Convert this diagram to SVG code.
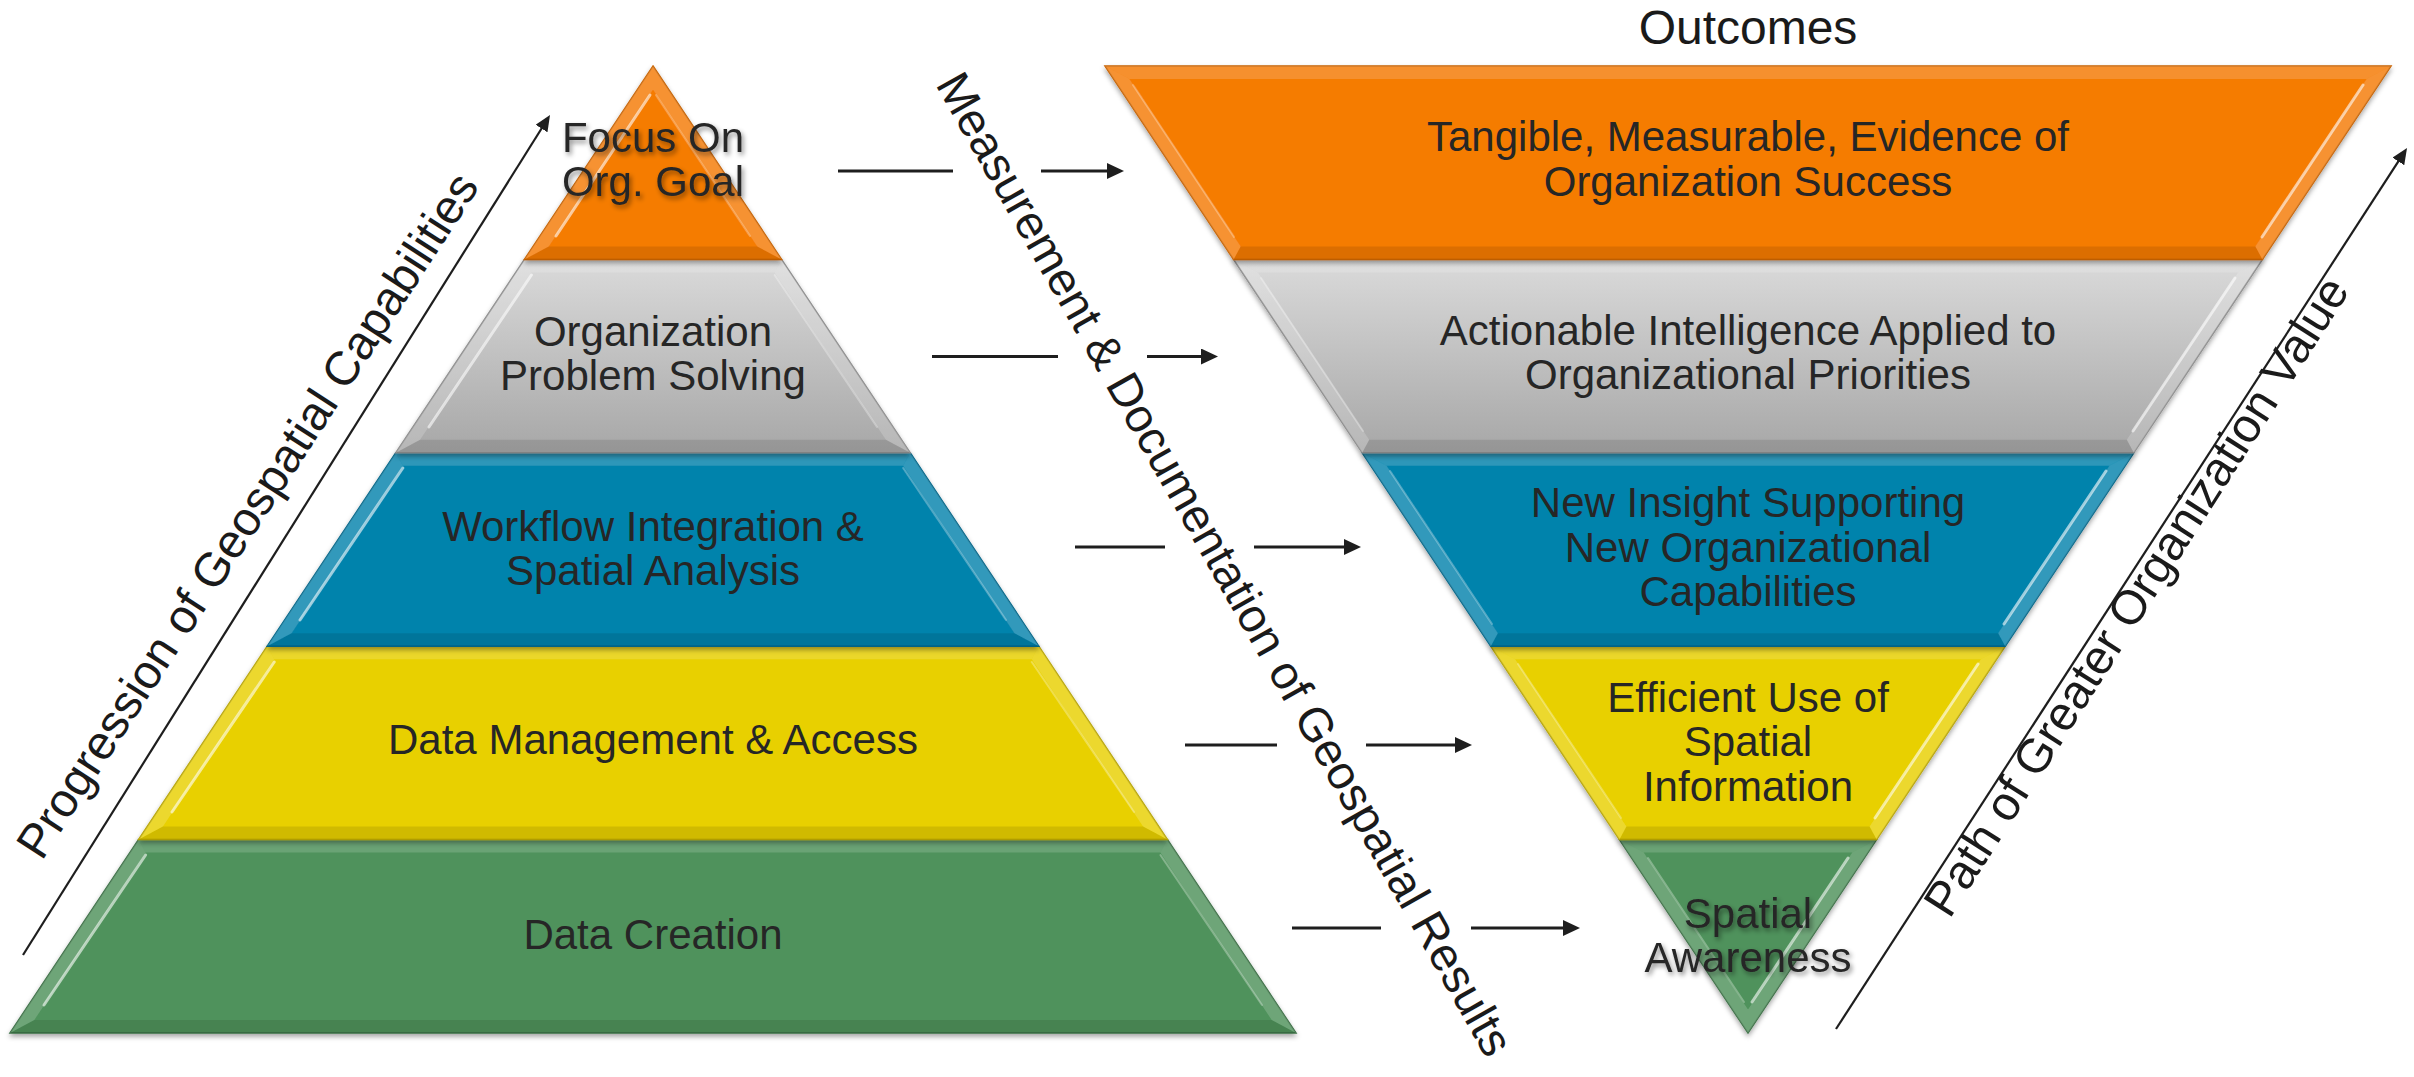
<svg xmlns="http://www.w3.org/2000/svg" width="2414" height="1077" viewBox="0 0 2414 1077">
<defs>
<style>
.lbl{font-family:"Liberation Sans",Arial,sans-serif;font-size:42px;fill:#262626;text-anchor:middle}
.rot{font-family:"Liberation Sans",Arial,sans-serif;font-size:48px;fill:#1a1a1a;text-anchor:middle}
.tt{fill:#fff;fill-opacity:.16}
.ts{fill:#fff;fill-opacity:.18}
.tb{fill:#000;fill-opacity:.10}
.hl{stroke:#fff;stroke-opacity:.6;stroke-width:3;fill:none;stroke-linecap:round}
.hl2{stroke:#fff;stroke-opacity:.3;stroke-width:2;fill:none;stroke-linecap:round}
.conn{stroke:#1e1e1e;stroke-width:3;fill:none}
.diag{stroke:#1e1e1e;stroke-width:2.2;fill:none}
.or{fill:#F57B06;stroke:#C86200;stroke-width:1.5}
.gr{fill:url(#gGray);stroke:#8C8C8C;stroke-width:1.5}
.bl{fill:#0583AC;stroke:#03678A;stroke-width:1.5}
.ye{fill:#E8D000;stroke:#B9A500;stroke-width:1.5}
.gn{fill:#4F925B;stroke:#3B7045;stroke-width:1.5}
</style>
<linearGradient id="gGray" x1="0" y1="0" x2="0" y2="1">
<stop offset="0" stop-color="#DADADA"/>
<stop offset="1" stop-color="#A7A7A7"/>
</linearGradient>
<filter id="sh" x="-5%" y="-10%" width="110%" height="130%">
<feDropShadow dx="0" dy="3" stdDeviation="2.5" flood-color="#000" flood-opacity="0.35"/>
</filter>
<filter id="tsh" x="-10%" y="-30%" width="120%" height="160%">
<feDropShadow dx="2" dy="3" stdDeviation="2.5" flood-color="#000" flood-opacity="0.45"/>
</filter>
<marker id="ah" markerUnits="userSpaceOnUse" markerWidth="17" markerHeight="16" viewBox="0 0 17 16" refX="7" refY="8" orient="auto">
<path d="M0,0 L17,8 L0,16 z" fill="#1e1e1e"/>
</marker>
<marker id="ah2" markerUnits="userSpaceOnUse" markerWidth="16" markerHeight="14" viewBox="0 0 16 14" refX="6" refY="7" orient="auto">
<path d="M0,0 L16,7 L0,14 z" fill="#1e1e1e"/>
</marker>
</defs>
<rect width="2414" height="1077" fill="#fff"/>

<!-- Left pyramid (drawn bottom to top) -->
<g id="lp-data-creation">
<g filter="url(#sh)">
<polygon class="gn" points="138.6,839.6 1167.4,839.6 1296,1033 10,1033"/>
<polygon class="tt" points="138.6,839.6 1167.4,839.6 1160.4,852.6 145.6,852.6"/>
<polygon class="ts" points="1167.4,839.6 1296,1033 1271.7,1020 1160.4,852.6"/>
<polygon class="tb" points="1296,1033 10,1033 34.3,1020 1271.7,1020"/>
<polygon class="ts" points="10,1033 138.6,839.6 145.6,852.6 34.3,1020"/>
<line class="hl" x1="145.6" y1="855" x2="44" y2="1005"/>
<line class="hl2" x1="1160.4" y1="855" x2="1262" y2="1005"/>
</g>
<text class="lbl" x="653" y="949">Data Creation</text>
</g>

<g id="lp-data-management">
<g filter="url(#sh)">
<polygon class="ye" points="267.2,646.2 1038.8,646.2 1167.4,839.6 138.6,839.6"/>
<polygon class="tt" points="267.2,646.2 1038.8,646.2 1031.8,659.2 274.2,659.2"/>
<polygon class="ts" points="1038.8,646.2 1167.4,839.6 1143.1,826.6 1031.8,659.2"/>
<polygon class="tb" points="1167.4,839.6 138.6,839.6 162.9,826.6 1143.1,826.6"/>
<polygon class="ts" points="138.6,839.6 267.2,646.2 274.2,659.2 162.9,826.6"/>
<line class="hl" x1="274.2" y1="662" x2="172" y2="812"/>
<line class="hl2" x1="1031.8" y1="662" x2="1134" y2="812"/>
</g>
<text class="lbl" x="653" y="754">Data Management &amp; Access</text>
</g>

<g id="lp-workflow">
<g filter="url(#sh)">
<polygon class="bl" points="395.8,452.8 910.2,452.8 1038.8,646.2 267.2,646.2"/>
<polygon class="tt" points="395.8,452.8 910.2,452.8 903.2,465.8 402.8,465.8"/>
<polygon class="ts" points="910.2,452.8 1038.8,646.2 1014.5,633.2 903.2,465.8"/>
<polygon class="tb" points="1038.8,646.2 267.2,646.2 291.5,633.2 1014.5,633.2"/>
<polygon class="ts" points="267.2,646.2 395.8,452.8 402.8,465.8 291.5,633.2"/>
<line class="hl" x1="402.8" y1="468" x2="300" y2="620"/>
<line class="hl2" x1="903.2" y1="468" x2="1006" y2="620"/>
</g>
<text class="lbl" x="653" y="541">Workflow Integration &amp;</text>
<text class="lbl" x="653" y="585">Spatial Analysis</text>
</g>

<g id="lp-problem-solving">
<g filter="url(#sh)">
<polygon class="gr" points="524.4,259.4 781.6,259.4 910.2,452.8 395.8,452.8"/>
<polygon class="tt" points="524.4,259.4 781.6,259.4 774.6,272.4 531.4,272.4"/>
<polygon class="ts" points="781.6,259.4 910.2,452.8 885.9,439.8 774.6,272.4"/>
<polygon class="tb" points="910.2,452.8 395.8,452.8 420.1,439.8 885.9,439.8"/>
<polygon class="ts" points="395.8,452.8 524.4,259.4 531.4,272.4 420.1,439.8"/>
<line class="hl" x1="531.4" y1="275" x2="429" y2="427"/>
<line class="hl2" x1="774.6" y1="275" x2="877" y2="427"/>
</g>
<text class="lbl" x="653" y="346">Organization</text>
<text class="lbl" x="653" y="390">Problem Solving</text>
</g>

<g id="lp-focus">
<g filter="url(#sh)">
<polygon class="or" points="653,66 781.6,259.4 524.4,259.4"/>
<polygon class="ts" points="653,66 524.4,259.4 548.7,246.4 653,89.5"/>
<polygon class="ts" points="653,66 781.6,259.4 757.3,246.4 653,89.5"/>
<polygon class="tb" points="524.4,259.4 781.6,259.4 757.3,246.4 548.7,246.4"/>
<line class="hl" x1="650" y1="95" x2="556" y2="236"/>
<line class="hl2" x1="656" y1="95" x2="750" y2="236"/>
</g>
<g filter="url(#tsh)">
<text class="lbl" x="653" y="152">Focus On</text>
<text class="lbl" x="653" y="196">Org. Goal</text>
</g>
</g>

<!-- Inverted pyramid (drawn bottom to top) -->
<g id="rp-spatial-awareness">
<g filter="url(#sh)">
<polygon class="gn" points="1619.4,839.6 1876.6,839.6 1748,1033"/>
<polygon class="tt" points="1619.4,839.6 1876.6,839.6 1852.3,852.6 1643.7,852.6"/>
<polygon class="ts" points="1619.4,839.6 1748,1033 1748,1009.5 1643.7,852.6"/>
<polygon class="ts" points="1876.6,839.6 1748,1033 1748,1009.5 1852.3,852.6"/>
<line class="hl" x1="1848" y1="858" x2="1752" y2="1002"/>
<line class="hl2" x1="1648" y1="858" x2="1744" y2="1002"/>
</g>
<g filter="url(#tsh)">
<text class="lbl" x="1748" y="928">Spatial</text>
<text class="lbl" x="1748" y="972">Awareness</text>
</g>
</g>

<g id="rp-efficient-use">
<g filter="url(#sh)">
<polygon class="ye" points="1490.8,646.2 2005.2,646.2 1876.6,839.6 1619.4,839.6"/>
<polygon class="tt" points="1490.8,646.2 2005.2,646.2 1980.9,659.2 1515.1,659.2"/>
<polygon class="ts" points="2005.2,646.2 1876.6,839.6 1869.6,826.6 1980.9,659.2"/>
<polygon class="tb" points="1876.6,839.6 1619.4,839.6 1626.4,826.6 1869.6,826.6"/>
<polygon class="ts" points="1619.4,839.6 1490.8,646.2 1515.1,659.2 1626.4,826.6"/>
<line class="hl" x1="1978" y1="664" x2="1875" y2="818"/>
<line class="hl2" x1="1518" y1="664" x2="1621" y2="818"/>
</g>
<text class="lbl" x="1748" y="712">Efficient Use of</text>
<text class="lbl" x="1748" y="756">Spatial</text>
<text class="lbl" x="1748" y="801">Information</text>
</g>

<g id="rp-new-insight">
<g filter="url(#sh)">
<polygon class="bl" points="1362.2,452.8 2133.8,452.8 2005.2,646.2 1490.8,646.2"/>
<polygon class="tt" points="1362.2,452.8 2133.8,452.8 2109.5,465.8 1386.5,465.8"/>
<polygon class="ts" points="2133.8,452.8 2005.2,646.2 1998.2,633.2 2109.5,465.8"/>
<polygon class="tb" points="2005.2,646.2 1490.8,646.2 1497.8,633.2 1998.2,633.2"/>
<polygon class="ts" points="1490.8,646.2 1362.2,452.8 1386.5,465.8 1497.8,633.2"/>
<line class="hl" x1="2106" y1="471" x2="2004" y2="624"/>
<line class="hl2" x1="1390" y1="471" x2="1492" y2="624"/>
</g>
<text class="lbl" x="1748" y="517">New Insight Supporting</text>
<text class="lbl" x="1748" y="562">New Organizational</text>
<text class="lbl" x="1748" y="606">Capabilities</text>
</g>

<g id="rp-actionable">
<g filter="url(#sh)">
<polygon class="gr" points="1233.6,259.4 2262.4,259.4 2133.8,452.8 1362.2,452.8"/>
<polygon class="tt" points="1233.6,259.4 2262.4,259.4 2238.1,272.4 1257.9,272.4"/>
<polygon class="ts" points="2262.4,259.4 2133.8,452.8 2126.8,439.8 2238.1,272.4"/>
<polygon class="tb" points="2133.8,452.8 1362.2,452.8 1369.2,439.8 2126.8,439.8"/>
<polygon class="ts" points="1362.2,452.8 1233.6,259.4 1257.9,272.4 1369.2,439.8"/>
<line class="hl" x1="2235" y1="278" x2="2133" y2="431"/>
<line class="hl2" x1="1261" y1="278" x2="1363" y2="431"/>
</g>
<text class="lbl" x="1748" y="345">Actionable Intelligence Applied to</text>
<text class="lbl" x="1748" y="389">Organizational Priorities</text>
</g>

<g id="rp-tangible">
<g filter="url(#sh)">
<polygon class="or" points="1105,66 2391,66 2262.4,259.4 1233.6,259.4"/>
<polygon class="tt" points="1105,66 2391,66 2366.7,79 1129.3,79"/>
<polygon class="ts" points="2391,66 2262.4,259.4 2255.4,246.4 2366.7,79"/>
<polygon class="tb" points="2262.4,259.4 1233.6,259.4 1240.6,246.4 2255.4,246.4"/>
<polygon class="ts" points="1233.6,259.4 1105,66 1129.3,79 1240.6,246.4"/>
<line class="hl" x1="2363" y1="85" x2="2262" y2="237"/>
<line class="hl2" x1="1133" y1="85" x2="1234" y2="237"/>
</g>
<text class="lbl" x="1748" y="151">Tangible, Measurable, Evidence of</text>
<text class="lbl" x="1748" y="196">Organization Success</text>
</g>

<!-- Labels -->
<g id="title-outcomes">
<text class="rot" x="1748" y="44">Outcomes</text>
</g>
<g id="label-progression">
<text class="rot" style="font-size:47.5px" transform="translate(261,524) rotate(-57)">Progression of Geospatial Capabilities</text>
</g>
<g id="label-measurement">
<text class="rot" style="font-size:47px" transform="translate(1211,572) rotate(60.5)">Measurement &amp; Documentation of Geospatial Results</text>
</g>
<g id="label-path">
<text class="rot" transform="translate(2150,605) rotate(-57.5)">Path of Greater Organization Value</text>
</g>

<!-- Connectors -->
<g id="connectors">
<g id="c1"><line class="conn" x1="838" y1="171" x2="953" y2="171"/><line class="conn" x1="1041" y1="171" x2="1114" y2="171" marker-end="url(#ah)"/></g>
<g id="c2"><line class="conn" x1="932" y1="356.5" x2="1058" y2="356.5"/><line class="conn" x1="1147" y1="356.5" x2="1208" y2="356.5" marker-end="url(#ah)"/></g>
<g id="c3"><line class="conn" x1="1075" y1="547" x2="1165" y2="547"/><line class="conn" x1="1254" y1="547" x2="1351" y2="547" marker-end="url(#ah)"/></g>
<g id="c4"><line class="conn" x1="1185" y1="745" x2="1277" y2="745"/><line class="conn" x1="1366" y1="745" x2="1462" y2="745" marker-end="url(#ah)"/></g>
<g id="c5"><line class="conn" x1="1292" y1="928" x2="1381" y2="928"/><line class="conn" x1="1471" y1="928" x2="1570" y2="928" marker-end="url(#ah)"/></g>
<line id="c-progression" class="diag" x1="23" y1="955" x2="544.7" y2="123.5" marker-end="url(#ah2)"/>
<line id="c-path" class="diag" x1="1836" y1="1029" x2="2401.6" y2="156.4" marker-end="url(#ah2)"/>
</g>
</svg>
